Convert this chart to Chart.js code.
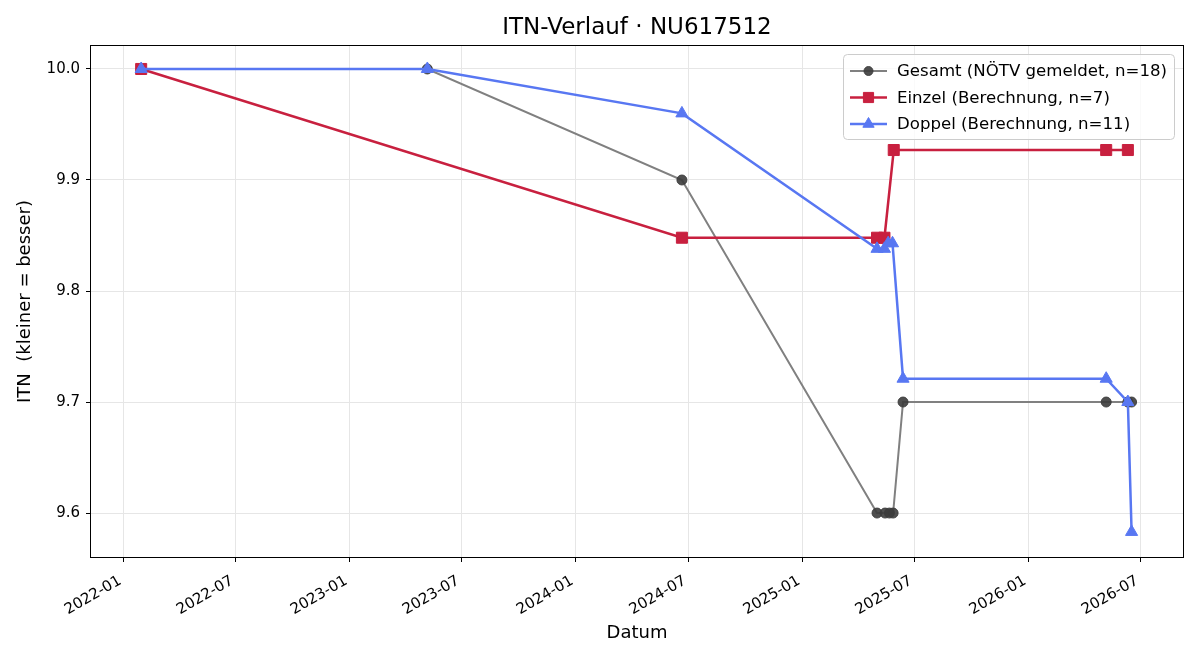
<!DOCTYPE html>
<html>
<head>
<meta charset="utf-8">
<script src="https://cdn.jsdelivr.net/npm/chart.js@4"></script>
<style>
  body { margin: 0; background: #fff; }
  #wrap { width: 1200px; height: 660px; }
</style>
</head>
<body>
<div id="wrap"><canvas id="itnChart" width="1200" height="660"></canvas></div>
<script>
// Data
const gesamtDates  = ["2022-01-30", "2023-05-07", "2024-06-21", "2025-05-02", "2025-05-15", "2025-05-22", "2025-05-28", "2025-06-13", "2026-05-07", "2026-06-11", "2026-06-17"];
const gesamtValues = [10.0, 10.0, 9.9, 9.6, 9.6, 9.6, 9.6, 9.7, 9.7, 9.7, 9.7];

const einzelDates  = ["2022-01-30", "2024-06-21", "2025-05-02", "2025-05-14", "2025-05-29", "2026-05-07", "2026-06-11"];
const einzelValues = [10.0, 9.848, 9.848, 9.848, 9.927, 9.927, 9.927];

const doppelDates  = ["2022-01-30", "2023-05-07", "2024-06-21", "2025-05-02", "2025-05-14", "2025-05-20", "2025-05-27", "2025-06-13", "2026-05-07", "2026-06-11", "2026-06-17"];
const doppelValues = [10.0, 10.0, 9.96, 9.838, 9.838, 9.843, 9.843, 9.721, 9.721, 9.70, 9.583];

const xTickLabels = ["2022-01", "2022-07", "2023-01", "2023-07", "2024-01", "2024-07", "2025-01", "2025-07", "2026-01", "2026-07"];
const yTickValues = [9.6, 9.7, 9.8, 9.9, 10.0];

const FONT = "'DejaVu Sans', sans-serif";

function ts(s) {
    const p = s.split("-").map(Number);
    return Date.UTC(p[0], p[1] - 1, p[2] || 1);
}
function fmtMonth(v) {
    const d = new Date(v);
    return d.getUTCFullYear() + "-" + String(d.getUTCMonth() + 1).padStart(2, "0");
}
function toPoints(dates, values) {
    return dates.map((d, i) => ({ x: ts(d), y: values[i] }));
}

const series = [
    { label: "Gesamt (NÖTV gemeldet, n=18)", line: "#808080", marker: "rgba(60,60,60,0.9)", style: "circle", radius: 5, legendRadius: 4.5, width: 2 },
    { label: "Einzel (Berechnung, n=7)", line: "#c8203f", marker: "#c8203f", style: "rect", radius: 7.8, legendRadius: 7.2, width: 2.5 },
    { label: "Doppel (Berechnung, n=11)", line: "#5877f2", marker: "#5877f2", style: "triangle", radius: 7, legendRadius: 6.5, width: 2.5 }
];

function drawMarker(ctx, style, r, x, y) {
    ctx.save();
    ctx.lineWidth = 1;
    Chart.helpers.drawPoint(ctx, { pointStyle: style, radius: r, borderWidth: 1, rotation: 0 }, x, y);
    ctx.restore();
}

// title, axis titles, frame and legend drawn on top
const decorPlugin = {
    id: "decor",
    afterDraw(chart) {
        const ctx = chart.ctx;
        const a = chart.chartArea;
        ctx.save();
        ctx.strokeStyle = "#000";
        ctx.lineWidth = 1;
        ctx.strokeRect(Math.round(a.left) - 0.5, Math.round(a.top) - 0.5, Math.round(a.right - a.left) + 1, Math.round(a.bottom - a.top) + 1);

        ctx.fillStyle = "#000";
        ctx.textAlign = "center";
        ctx.textBaseline = "middle";
        ctx.font = "23px " + FONT;
        ctx.fillText("ITN-Verlauf · NU617512", (a.left + a.right) / 2, 28);

        ctx.font = "18px " + FONT;
        ctx.fillText("Datum", (a.left + a.right) / 2, 633);
        ctx.save();
        ctx.translate(25, (a.top + a.bottom) / 2);
        ctx.rotate(-Math.PI / 2);
        ctx.fillText("ITN  (kleiner = besser)", 0, 0);
        ctx.restore();

        // legend box
        const bx = 843, by = 54, bw = 331, bh = 85;
        ctx.beginPath();
        ctx.roundRect(bx + 0.5, by + 0.5, bw, bh, 4);
        ctx.fillStyle = "rgba(255,255,255,0.8)";
        ctx.fill();
        ctx.strokeStyle = "#cccccc";
        ctx.stroke();

        ctx.font = "16.6px " + FONT;
        ctx.textAlign = "left";
        series.forEach((s, i) => {
            const y = 71 + i * 26.5;
            ctx.strokeStyle = s.line;
            ctx.lineWidth = s.width;
            ctx.beginPath();
            ctx.moveTo(850, y);
            ctx.lineTo(887, y);
            ctx.stroke();
            ctx.fillStyle = s.marker;
            ctx.strokeStyle = s.marker;
            drawMarker(ctx, s.style, s.legendRadius, 868.5, y);
            ctx.fillStyle = "#000";
            ctx.fillText(s.label, 897, y + 1);
        });
        ctx.restore();
    }
};

const datasets = [
    { data: toPoints(gesamtDates, gesamtValues), s: series[0], order: 3 },
    { data: toPoints(einzelDates, einzelValues), s: series[1], order: 2 },
    { data: toPoints(doppelDates, doppelValues), s: series[2], order: 1 }
].map(d => ({
    label: d.s.label,
    data: d.data,
    order: d.order,
    borderColor: d.s.line,
    borderWidth: d.s.width,
    backgroundColor: d.s.marker,
    pointBackgroundColor: d.s.marker,
    pointBorderColor: d.s.marker,
    pointBorderWidth: 1,
    pointStyle: d.s.style,
    pointRadius: d.s.radius,
    pointHoverRadius: d.s.radius,
    tension: 0,
    fill: false
}));

new Chart(document.getElementById("itnChart"), {
    type: "line",
    data: { datasets: datasets },
    plugins: [decorPlugin],
    options: {
        responsive: false,
        animation: false,
        events: [],
        layout: { padding: { top: 46, right: 17, left: 0, bottom: 0 } },
        plugins: {
            legend: { display: false },
            title: { display: false },
            tooltip: { enabled: false }
        },
        scales: {
            x: {
                type: "linear",
                min: ts("2021-11-10"),
                max: ts("2026-09-08"),
                afterFit(scale) { scale.height = 103; },
                afterBuildTicks(scale) { scale.ticks = xTickLabels.map(l => ({ value: ts(l) })); },
                ticks: {
                    autoSkip: false,
                    minRotation: 30,
                    maxRotation: 30,
                    padding: 10,
                    labelOffset: -3,
                    color: "#000",
                    font: { family: FONT, size: 15 },
                    callback: v => fmtMonth(v)
                },
                grid: { color: "#e6e6e6", tickColor: "#000", tickLength: 5, lineWidth: 1 },
                border: { display: false }
            },
            y: {
                type: "linear",
                min: 9.5604,
                max: 10.0207,
                afterFit(scale) { scale.width = 91; },
                afterBuildTicks(scale) { scale.ticks = yTickValues.map(v => ({ value: v })); },
                ticks: {
                    padding: 6,
                    color: "#000",
                    font: { family: FONT, size: 15 },
                    callback: v => v.toFixed(1)
                },
                grid: { color: "#e6e6e6", tickColor: "#000", tickLength: 5, lineWidth: 1 },
                border: { display: false }
            }
        }
    }
});
</script>
</body>
</html>
